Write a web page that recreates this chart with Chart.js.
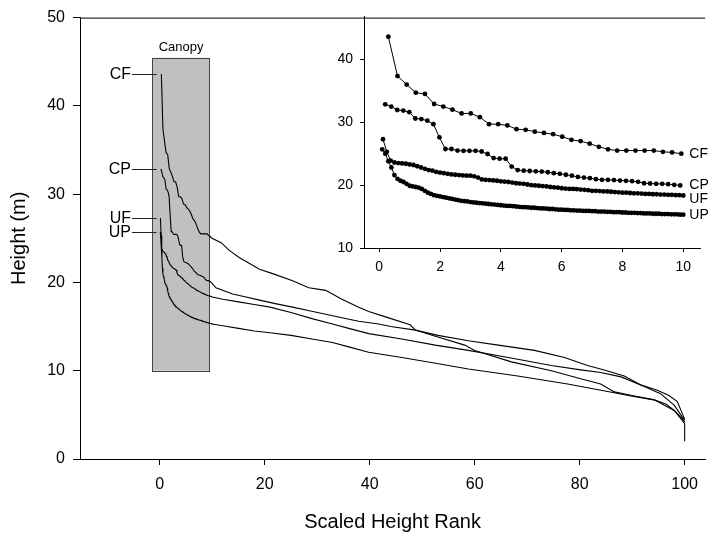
<!DOCTYPE html>
<html>
<head>
<meta charset="utf-8">
<script src="https://cdn.jsdelivr.net/npm/chart.js@4.4.0/dist/chart.umd.min.js"></script>
<style>
  html, body { margin: 0; padding: 0; background: #fff; overflow: hidden; }
  #wrap { position: relative; width: 708px; height: 535px; }
  #main { position: absolute; left: 0; top: 0; }
  #inset { position: absolute; left: 300px; top: 0; }
</style>
</head>
<body>
<div id="wrap">
  <canvas id="main" width="708" height="535"></canvas>
  <canvas id="inset" width="408" height="290"></canvas>
</div>
<script>
const seriesNames = ['CF', 'CP', 'UF', 'UP'];

// tallest trees (scaled rank 0-10), one height per tree, spaced by 100/n
const rankStep = [0.301, 0.198, 0.125, 0.1];
const cfTop = [43.6, 37.35, 36.0, 34.7, 34.5, 32.9, 32.5, 32.0, 31.4, 31.4, 30.8, 29.7, 29.7, 29.5,
  28.9, 28.8, 28.5, 28.3, 28.1, 27.7, 27.2, 27.0, 26.6, 26.1, 25.7, 25.5, 25.5, 25.5, 25.5, 25.5,
  25.3, 25.2, 25.0];
const cpTop = [32.85, 32.5, 31.95, 31.85, 31.6, 30.6, 30.5, 30.25, 29.7, 27.6, 25.75, 25.75, 25.5,
  25.45, 25.45, 25.45, 25.35, 24.95, 24.3, 24.2, 24.2, 22.95, 22.4, 22.3, 22.25, 22.2, 22.15, 22.05,
  21.9, 21.8, 21.65, 21.5, 21.3, 21.2, 21.1, 20.95, 20.85, 20.84, 20.8, 20.73, 20.68, 20.63, 20.52,
  20.3, 20.26, 20.2, 20.2, 20.15, 20.05, 19.95];
const ufTop = [27.3, 25.3, 23.9, 23.6, 23.5, 23.45, 23.4, 23.3, 23.2, 23.0, 22.8, 22.6, 22.4, 22.3,
  22.1, 22.0, 21.9, 21.8, 21.7, 21.65, 21.6, 21.55, 21.5, 21.5, 21.4, 21.2, 20.9, 20.85, 20.8, 20.75,
  20.7, 20.6, 20.55, 20.5, 20.4, 20.3, 20.25, 20.2, 20.1, 20.0, 19.95, 19.9, 19.85, 19.8, 19.7, 19.65,
  19.6, 19.5, 19.45, 19.4, 19.4, 19.35, 19.3, 19.25, 19.2, 19.1, 19.1, 19.05, 19.0, 19.0, 18.95, 18.9,
  18.85, 18.8, 18.8, 18.75, 18.7, 18.7, 18.65, 18.6, 18.6, 18.55, 18.55, 18.5, 18.5, 18.45, 18.45,
  18.4, 18.4, 18.35];
const upTop = [25.7, 25.0, 23.8, 22.8, 21.6, 21.0, 20.7, 20.5, 20.2, 19.9, 19.8, 19.7, 19.6, 19.4,
  19.1, 18.8, 18.6, 18.4, 18.3, 18.2, 18.1, 18.0, 17.9, 17.8, 17.7, 17.6, 17.5, 17.45, 17.4, 17.3,
  17.25, 17.2, 17.15, 17.1, 17.05, 17.0, 16.95, 16.9, 16.85, 16.8, 16.75, 16.7, 16.7, 16.65, 16.6,
  16.55, 16.5, 16.5, 16.45, 16.4, 16.4, 16.35, 16.3, 16.3, 16.25, 16.2, 16.2, 16.15, 16.1, 16.1,
  16.05, 16.05, 16.0, 16.0, 15.95, 15.95, 15.9, 15.9, 15.9, 15.85, 15.85, 15.8, 15.8, 15.8, 15.75,
  15.75, 15.7, 15.7, 15.7, 15.65, 15.65, 15.6, 15.6, 15.6, 15.55, 15.55, 15.5, 15.5, 15.5, 15.45,
  15.45, 15.45, 15.4, 15.4, 15.4, 15.35, 15.35, 15.35, 15.3, 15.3];

// rest of the distribution (scaled rank > 10)
const cfRestX = [11.7, 13.3, 15.2, 19, 21.5, 25.3, 28.4, 31.6, 34.7, 37.9, 39.8, 43, 47.7, 48.7, 52.5,
  58.1, 60, 67, 74.6, 80.2, 84, 86.6, 90, 94.2, 98, 99.5, 100];
const cfRestY = [24.5, 23.6, 22.8, 21.5, 21.0, 20.2, 19.4, 19.1, 18.1, 17.2, 16.7, 16.1, 15.2, 14.6, 13.9,
  12.9, 12.3, 11.0, 10.0, 9.1, 8.5, 7.6, 7.2, 6.7, 5.5, 4.6, 4.2];
const cpRestX = [10.7, 13.9, 16, 19, 22, 25.3, 28.5, 31.6, 34.7, 37.9, 41.7, 44, 48.7, 53, 58.8, 64.5,
  71.4, 77.1, 81.5, 84, 88.5, 91.6, 94.8, 97, 98.6, 99.8, 100];
const cpRestY = [19.4, 18.7, 18.4, 18.0, 17.6, 17.2, 16.8, 16.4, 16.0, 15.6, 15.3, 15.0, 14.6, 14.0, 13.4,
  12.9, 12.3, 11.5, 10.6, 10.2, 9.4, 8.4, 7.8, 7.2, 6.5, 4.8, 4.5];
const ufRestX = [12, 15, 18, 21, 25, 29, 32.9, 36, 39.8, 46.1, 52.5, 58.8, 66.4, 74.6, 80.2, 84, 87.9,
  92.3, 95.4, 98, 99.5, 100];
const ufRestY = [18.1, 17.8, 17.5, 17.2, 16.6, 15.9, 15.3, 14.8, 14.2, 13.6, 12.9, 12.3, 11.5, 10.6, 10.1,
  9.8, 9.3, 8.2, 7.4, 6.1, 4.8, 4.4];
const upRestX = [12, 15, 18, 21, 25, 29, 32.9, 36, 39.8, 46.1, 52, 58.8, 68.2, 77.7, 86.6, 90, 94.2,
  96.5, 98, 99.5, 100, 100];
const upRestY = [15.1, 14.8, 14.5, 14.3, 14.0, 13.6, 13.2, 12.7, 12.1, 11.5, 10.9, 10.2, 9.4, 8.5, 7.5,
  7.1, 6.7, 6.2, 5.5, 4.4, 4.0, 2.0];

const mainXTicks = [0, 20, 40, 60, 80, 100];
const mainYTicks = [0, 10, 20, 30, 40, 50];
const insetXTicks = [0, 2, 4, 6, 8, 10];
const insetYTicks = [10, 20, 30, 40];

// canopy box in data units
const canopy = { x0: -1.4, x1: 9.5, y0: 10, y1: 45.45 };

Chart.defaults.font.family = "'Liberation Sans', Arial, sans-serif";
Chart.defaults.color = '#000';

function rankPoints(step, ys) {
    return ys.map((y, i) => ({ x: Math.round(step * (i + 1) * 1000) / 1000, y: y }));
}
function pairPoints(xs, ys) {
    return xs.map((x, i) => ({ x: x, y: ys[i] }));
}

const tops = [cfTop, cpTop, ufTop, upTop];
const rests = [[cfRestX, cfRestY], [cpRestX, cpRestY], [ufRestX, ufRestY], [upRestX, upRestY]];
const insetSeries = tops.map((ys, i) => rankPoints(rankStep[i], ys));
const mainSeries = insetSeries.map((pts, i) => pts.concat(pairPoints(rests[i][0], rests[i][1])));

function fixedTicks(list) {
    return function (scale) {
        scale.ticks = list.map(v => ({ value: v }));
    };
}

const topFrame = {
    id: 'topFrame',
    afterDraw(chart) {
        const { ctx, chartArea } = chart;
        ctx.save();
        ctx.strokeStyle = '#000';
        ctx.lineWidth = 1;
        ctx.beginPath();
        ctx.moveTo(chartArea.left, chartArea.top + 0.5);
        ctx.lineTo(chartArea.right, chartArea.top + 0.5);
        ctx.stroke();
        ctx.restore();
    }
};

const canopyBox = {
    id: 'canopyBox',
    beforeDatasetsDraw(chart) {
        const { ctx, scales: { x, y } } = chart;
        const l = x.getPixelForValue(canopy.x0), r = x.getPixelForValue(canopy.x1);
        const t = y.getPixelForValue(canopy.y1), b = y.getPixelForValue(canopy.y0);
        ctx.save();
        ctx.fillStyle = '#c0c0c0';
        ctx.fillRect(l, t, r - l, b - t);
        ctx.strokeStyle = '#444';
        ctx.lineWidth = 1;
        ctx.strokeRect(Math.round(l) + 0.5, Math.round(t) + 0.5, Math.round(r - l), Math.round(b - t));
        ctx.font = "13px 'Liberation Sans', Arial, sans-serif";
        ctx.fillStyle = '#000';
        ctx.textAlign = 'center';
        ctx.textBaseline = 'bottom';
        ctx.fillText('Canopy', (l + r) / 2, t - 4);
        ctx.restore();
    }
};

const leaderLabels = {
    id: 'leaderLabels',
    afterDatasetsDraw(chart) {
        const { ctx, scales: { x, y } } = chart;
        ctx.save();
        ctx.strokeStyle = '#222';
        ctx.lineWidth = 1;
        ctx.font = "16px 'Liberation Sans', Arial, sans-serif";
        ctx.fillStyle = '#000';
        ctx.textAlign = 'right';
        ctx.textBaseline = 'middle';
        chart.data.datasets.forEach(ds => {
            const py = Math.round(y.getPixelForValue(ds.data[0].y)) + 0.5;
            const x0 = x.getPixelForValue(-5.3), x1 = x.getPixelForValue(-0.6);
            ctx.beginPath();
            ctx.moveTo(x0, py);
            ctx.lineTo(x1, py);
            ctx.stroke();
            ctx.fillText(ds.label, x0 - 1, py);
        });
        ctx.restore();
    }
};

// small vertical nudges so the end labels of the inset do not collide
const endLabelShift = [0, 0, -0.6, -0.1];
const endLabels = {
    id: 'endLabels',
    afterDatasetsDraw(chart) {
        const { ctx, scales: { x, y } } = chart;
        ctx.save();
        ctx.font = "14px 'Liberation Sans', Arial, sans-serif";
        ctx.fillStyle = '#000';
        ctx.textAlign = 'left';
        ctx.textBaseline = 'middle';
        chart.data.datasets.forEach((ds, i) => {
            const last = ds.data[ds.data.length - 1];
            ctx.fillText(ds.label, x.getPixelForValue(10.2), y.getPixelForValue(last.y + endLabelShift[i]));
        });
        ctx.restore();
    }
};

new Chart(document.getElementById('main'), {
    type: 'line',
    data: {
        datasets: mainSeries.map((pts, i) => ({
            label: seriesNames[i],
            data: pts,
            borderColor: '#000',
            borderWidth: 1.1,
            pointRadius: 0,
            fill: false,
            tension: 0
        }))
    },
    options: {
        responsive: false,
        animation: false,
        layout: { padding: { top: 16, right: 0, left: 0, bottom: 0 } },
        plugins: { legend: { display: false }, tooltip: { enabled: false } },
        scales: {
            x: {
                type: 'linear',
                min: -15.2,
                max: 103.9,
                afterBuildTicks: fixedTicks(mainXTicks),
                afterFit: s => { s.height = 76; },
                grid: { drawOnChartArea: false, tickLength: 6, color: '#000' },
                border: { color: '#000', width: 1 },
                ticks: { font: { size: 16 }, color: '#000', padding: 10, maxRotation: 0, autoSkip: false },
                title: { display: true, text: 'Scaled Height Rank', font: { size: 20 }, color: '#000', padding: { top: 0, bottom: 1 } }
            },
            y: {
                min: 0,
                max: 50,
                afterBuildTicks: fixedTicks(mainYTicks),
                afterFit: s => { s.width = 80; },
                grid: { drawOnChartArea: false, tickLength: 7, color: '#000' },
                border: { color: '#000', width: 1 },
                ticks: { font: { size: 16 }, color: '#000', padding: 8, autoSkip: false },
                title: { display: true, text: 'Height (m)', font: { size: 20 }, color: '#000', padding: { top: 7, bottom: 0 } }
            }
        }
    },
    plugins: [canopyBox, leaderLabels, topFrame]
});

new Chart(document.getElementById('inset'), {
    type: 'line',
    data: {
        datasets: insetSeries.map((pts, i) => ({
            label: seriesNames[i],
            data: pts,
            borderColor: '#000',
            borderWidth: 1,
            pointRadius: 2.4,
            pointBorderWidth: 0,
            pointBackgroundColor: '#000',
            fill: false,
            tension: 0
        }))
    },
    options: {
        responsive: false,
        animation: false,
        layout: { padding: { top: 16, right: 8, left: 0, bottom: 0 } },
        plugins: { legend: { display: false }, tooltip: { enabled: false } },
        scales: {
            x: {
                type: 'linear',
                min: -0.5,
                max: 10.55,
                afterBuildTicks: fixedTicks(insetXTicks),
                afterFit: s => { s.height = 42; },
                grid: { drawOnChartArea: false, tickLength: 4, color: '#000' },
                border: { color: '#000', width: 1 },
                ticks: { font: { size: 14 }, color: '#000', padding: 7, maxRotation: 0, autoSkip: false }
            },
            y: {
                min: 10,
                max: 46.9,
                afterBuildTicks: fixedTicks(insetYTicks),
                afterFit: s => { s.width = 64; },
                grid: { drawOnChartArea: false, tickLength: 4, color: '#000' },
                border: { color: '#000', width: 1 },
                ticks: { font: { size: 14 }, color: '#000', padding: 7, autoSkip: false }
            }
        }
    },
    plugins: [endLabels]
});
</script>
</body>
</html>
